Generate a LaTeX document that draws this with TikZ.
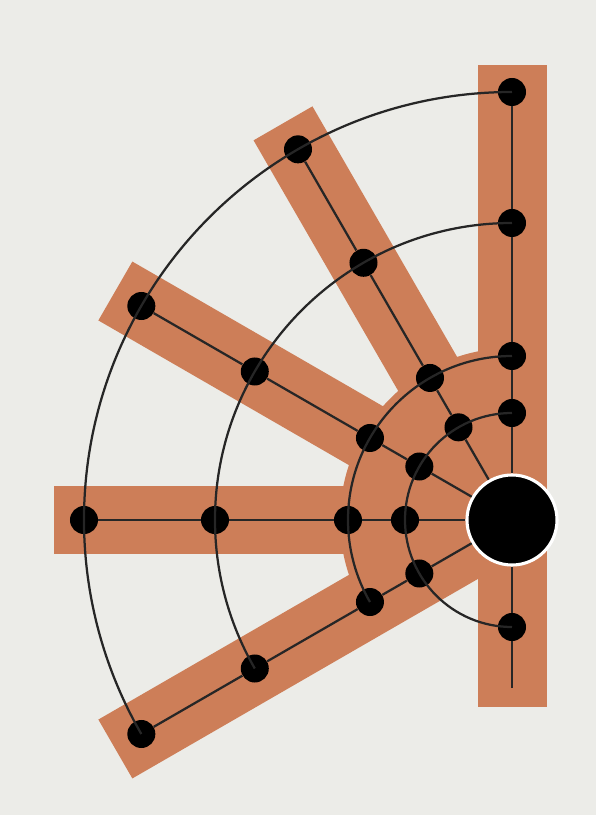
\documentclass[tikz,border=0pt]{standalone}
\usetikzlibrary{positioning}
\definecolor{wheelbg}{RGB}{236,236,232}
\definecolor{spokebar}{RGB}{205,126,88}

\begin{document}
\begin{tikzpicture}[
  x=0.025cm, y=0.025cm,
  bar/.style={fill=spokebar},
  dot/.style={circle, fill=black, minimum size=7mm, inner sep=0pt},
  hub/.style={circle, fill=black, draw=white, line width=2.2pt,
    minimum size=22.5mm, inner sep=0pt},
  link/.style={line width=1.6pt, black!85},
]
  % Background
  \fill[wheelbg] (-512,-295) rectangle (84,520);
  \useasboundingbox (-512,-295) rectangle (84,520);
  % Bars
  \fill[bar] (-34,-187) rectangle (35,455);
  \foreach \ang in {120,150,180,210}
    \fill[bar, rotate=\ang] (0,-34) rectangle (458,34);
  \fill[bar] (0,0) -- (90:172)
    arc[start angle=90, end angle=210, radius=172] -- cycle;
  % Hub
  \node[hub] (hub) at (0,0) {};
  % Vertical spoke
  \node[dot] (n90-1) at (90:428) {};
  \node[dot] (n90-2) at (90:297) {};
  \node[dot] (n90-3) at (90:164) {};
  \node[dot] (n90-4) at (90:107) {};
  \node[dot] (n270-4) at (270:107) {};
  \coordinate (tail) at (0,-168);
  % Spoke at 120
  \node[dot] (n120-1) at (120:428) {};
  \node[dot] (n120-2) at (120:297) {};
  \node[dot] (n120-3) at (120:164) {};
  \node[dot] (n120-4) at (120:107) {};
  % Spoke at 150
  \node[dot] (n150-1) at (150:428) {};
  \node[dot] (n150-2) at (150:297) {};
  \node[dot] (n150-3) at (150:164) {};
  \node[dot] (n150-4) at (150:107) {};
  % Spoke at 180
  \node[dot] (n180-1) at (180:428) {};
  \node[dot] (n180-2) at (180:297) {};
  \node[dot] (n180-3) at (180:164) {};
  \node[dot] (n180-4) at (180:107) {};
  % Spoke at 210
  \node[dot] (n210-1) at (210:428) {};
  \node[dot] (n210-2) at (210:297) {};
  \node[dot] (n210-3) at (210:164) {};
  \node[dot] (n210-4) at (210:107) {};
  % Spokes
  \draw[link] (n90-1) -- (n90-2) -- (n90-3) -- (n90-4) -- (hub);
  \draw[link] (hub) -- (n270-4) -- (tail);
  \draw[link] (n120-1) -- (n120-2) -- (n120-3) -- (n120-4) -- (hub);
  \draw[link] (n150-1) -- (n150-2) -- (n150-3) -- (n150-4) -- (hub);
  \draw[link] (n180-1) -- (n180-2) -- (n180-3) -- (n180-4) -- (hub);
  \draw[link] (n210-1) -- (n210-2) -- (n210-3) -- (n210-4) -- (hub);
  % Rings
  \draw[link] (n90-1.center) arc[start angle=90, end angle=210, radius=428];
  \draw[link] (n90-2.center) arc[start angle=90, end angle=210, radius=297];
  \draw[link] (n90-3.center) arc[start angle=90, end angle=210, radius=164];
  \draw[link] (n90-4.center) arc[start angle=90, end angle=270, radius=107];
\end{tikzpicture}
\end{document}
